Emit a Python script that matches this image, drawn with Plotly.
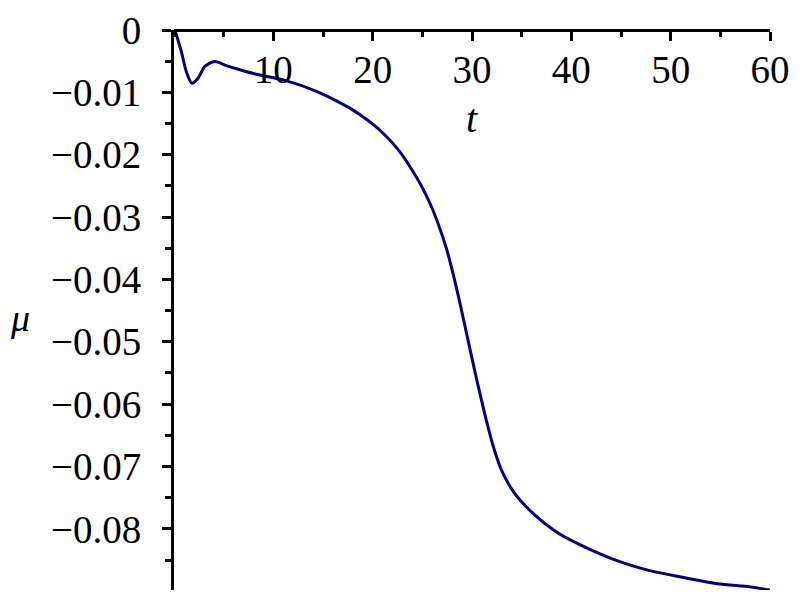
import plotly.graph_objects as go

t_vals = [0.0, 0.1, 0.74, 1.24, 1.81, 2.42, 3.09, 4.1, 5.27, 6.45, 8.29, 11.0, 14.4, 17.7,
          18.73, 20.4, 21.2, 22.1, 23.0, 23.9, 24.8, 25.8, 26.6, 27.4, 28.1, 28.8, 29.5, 30.2, 30.9,
          31.6, 32.3, 33.0, 34.2, 36.2, 38.5, 40.7, 44.6, 47.9, 51.3, 54.7, 58.0, 60.0]
mu_vals = [0.0, -0.0002, -0.00347, -0.00667, -0.00853, -0.00773, -0.00587, -0.00507, -0.00571,
           -0.0063, -0.0071, -0.0080, -0.00987, -0.01253,
           -0.0136, -0.0156, -0.0168, -0.0183, -0.0201, -0.0223, -0.0247, -0.0279, -0.0311,
           -0.0349, -0.0391, -0.0439, -0.0490, -0.0541, -0.0590,
           -0.0636, -0.0676, -0.0707, -0.0741, -0.0776, -0.0805, -0.0824, -0.0851, -0.0867,
           -0.0878, -0.0888, -0.0893, -0.0898]

x_ticks = [10, 20, 30, 40, 50, 60]
y_ticks = [0, -0.01, -0.02, -0.03, -0.04, -0.05, -0.06, -0.07, -0.08]
y_ticktext = ["0", "\u22120.01", "\u22120.02", "\u22120.03", "\u22120.04",
              "\u22120.05", "\u22120.06", "\u22120.07", "\u22120.08"]

font_family = "Liberation Serif, Times New Roman, serif"

# page body has an 8px margin, so positions are offset by 8px
OFF = 8
L, R, T, B = 174 - OFF, 800 - (770 - OFF), 30 - OFF, 600 - (590 - OFF)
W, H = 800, 600
plot_w = W - L - R
plot_h = H - T - B


def px_to_paper(px, py):
    px -= OFF
    py -= OFF
    return (px - L) / plot_w, (H - B - py) / plot_h


fig = go.Figure()
fig.add_trace(go.Scatter(x=t_vals, y=mu_vals, mode="lines",
                         line=dict(color="#000080", width=3, shape="spline", smoothing=0.8),
                         showlegend=False, hoverinfo="skip", cliponaxis=False))

tx, ty = px_to_paper(472, 118)
mx, my = px_to_paper(20, 318)

fig.update_layout(
    width=W, height=H,
    margin=dict(l=L, r=R, t=T, b=B, autoexpand=False),
    paper_bgcolor="white", plot_bgcolor="white",
    font=dict(family=font_family, color="black", size=36),
    xaxis=dict(range=[0, 60], side="bottom", anchor="free", position=1,
               showline=True, linecolor="black", linewidth=3,
               ticks="outside", ticklen=9, tickwidth=2.5, tickcolor="black",
               tickvals=x_ticks, automargin=False, ticklabelstandoff=-5,
               tickfont=dict(family=font_family, size=39, color="black"),
               minor=dict(ticks="outside", ticklen=5, tickwidth=2.5, tickcolor="black", dtick=5, showgrid=False),
               showgrid=False, zeroline=False),
    yaxis=dict(range=[-0.0898, 0], showline=True, linecolor="black", linewidth=3,
               ticks="outside", ticklen=9, tickwidth=2.5, tickcolor="black",
               tickvals=y_ticks, ticktext=y_ticktext, automargin=False, ticklabelstandoff=13,
               tickfont=dict(family=font_family, size=39, color="black"),
               minor=dict(ticks="outside", ticklen=6, tickwidth=2.5, tickcolor="black", dtick=0.005, tick0=0, showgrid=False),
               showgrid=False, zeroline=False),
    annotations=[
        dict(text="<i>t</i>", x=tx, y=ty, xref="paper", yref="paper", showarrow=False,
             xanchor="center", yanchor="middle",
             font=dict(family=font_family, size=40, color="black")),
        dict(text="<i>\u03bc</i>", x=mx, y=my, xref="paper", yref="paper", showarrow=False,
             xanchor="center", yanchor="middle",
             font=dict(family=font_family, size=38, color="black")),
    ],
)

fig.write_html("out.html")
